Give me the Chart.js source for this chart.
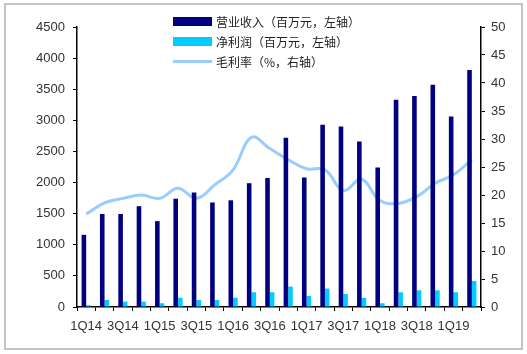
<!DOCTYPE html>
<html>
<head>
<meta charset="utf-8">
<script src="https://cdn.jsdelivr.net/npm/chart.js@4/dist/chart.umd.min.js"></script>
<style>
  html, body { margin: 0; padding: 0; background: #fff; }
  #wrap { position: relative; width: 527px; height: 354px; }
  #frame { position: absolute; left: 4px; top: 3px; width: 515px; height: 343px; border: 2px solid #c4c4c4; pointer-events: none; }
  #legend { position: absolute; left: 173px; top: 11px; font-family: "Noto Sans CJK SC", sans-serif; font-size: 12px; color: #222; }
  #legend .row { height: 20px; display: flex; align-items: center; }
  #legend .sw { width: 39px; margin-right: 4px; }
</style>
</head>
<body>
<div id="wrap">
  <canvas id="chart" width="527" height="354"></canvas>
  <div id="legend"></div>
  <div id="frame"></div>
</div>
<script>
const categories = ['1Q14','2Q14','3Q14','4Q14','1Q15','2Q15','3Q15','4Q15','1Q16','2Q16','3Q16','4Q16','1Q17','2Q17','3Q17','4Q17','1Q18','2Q18','3Q18','4Q18','1Q19','2Q19'];
const revenue = [1160,1495,1495,1620,1380,1740,1840,1680,1715,1990,2075,2720,2080,2930,2900,2660,2240,3330,3390,3570,3060,3810];
const netProfit = [30,113,86,86,60,150,113,113,150,237,237,328,177,296,210,145,60,237,268,268,237,419];
const grossMargin = [16.6,18.6,19.4,20.0,19.4,21.2,19.4,21.8,24.5,30.3,28.3,26.3,24.7,24.5,20.8,22.8,19.0,18.5,19.7,22.1,23.6,26.3];

const seriesNames = ['营业收入（百万元，左轴）', '净利润（百万元，左轴）', '毛利率（%，右轴）'];
const colors = ['#000080', '#00CCFF', '#99CCFF'];

const tickFont = { family: 'Liberation Sans', size: 13 };
const plain = function (v) { return String(v); };

const chart = new Chart(document.getElementById('chart').getContext('2d'), {
  type: 'bar',
  data: {
    labels: categories,
    datasets: [
      { type: 'bar', label: seriesNames[0], data: revenue, backgroundColor: colors[0], yAxisID: 'y', order: 1 },
      { type: 'bar', label: seriesNames[1], data: netProfit, backgroundColor: colors[1], yAxisID: 'y', order: 2 },
      { type: 'line', label: seriesNames[2], data: grossMargin, borderColor: colors[2], borderWidth: 3,
        pointRadius: 0, tension: 0.4, yAxisID: 'y1', order: 3 }
    ]
  },
  options: {
    responsive: false,
    animation: false,
    categoryPercentage: 0.5,
    barPercentage: 1.0,
    layout: { padding: { left: 10, right: 10, top: 27, bottom: 16 } },
    plugins: { legend: { display: false }, tooltip: { enabled: false } },
    scales: {
      x: {
        offset: true,
        grid: { offset: true, drawOnChartArea: false, drawTicks: true, tickLength: 4, color: '#000' },
        border: { color: '#000', width: 1.5 },
        ticks: {
          autoSkip: false, maxRotation: 0, color: '#333', font: tickFont, padding: 8,
          callback: function (v, i) { return i % 2 === 0 ? categories[i] : ''; }
        },
        afterFit: function (s) { s.height = 31; }
      },
      y: {
        position: 'left', min: 0, max: 4500,
        grid: { drawOnChartArea: false, tickLength: 4, color: '#000' },
        border: { color: '#000', width: 1.5 },
        ticks: { stepSize: 500, color: '#333', font: tickFont, padding: 8, callback: plain },
        afterFit: function (s) { s.width = 67; }
      },
      y1: {
        position: 'right', min: 0, max: 50,
        grid: { drawOnChartArea: false, tickLength: 4, color: '#000' },
        border: { color: '#000', width: 1.5 },
        ticks: { stepSize: 5, color: '#333', font: tickFont, padding: 6, callback: plain },
        afterFit: function (s) { s.width = 36; }
      }
    }
  }
});

// legend built from the datasets
const legendEl = document.getElementById('legend');
chart.data.datasets.forEach(function (ds) {
  const row = document.createElement('div');
  row.className = 'row';
  const sw = document.createElement('span');
  sw.className = 'sw';
  if (ds.type === 'line') {
    sw.style.height = '3px';
    sw.style.background = ds.borderColor;
  } else {
    sw.style.height = '9px';
    sw.style.background = ds.backgroundColor;
  }
  const txt = document.createElement('span');
  txt.textContent = ds.label;
  row.appendChild(sw);
  row.appendChild(txt);
  legendEl.appendChild(row);
});
</script>
</body>
</html>
